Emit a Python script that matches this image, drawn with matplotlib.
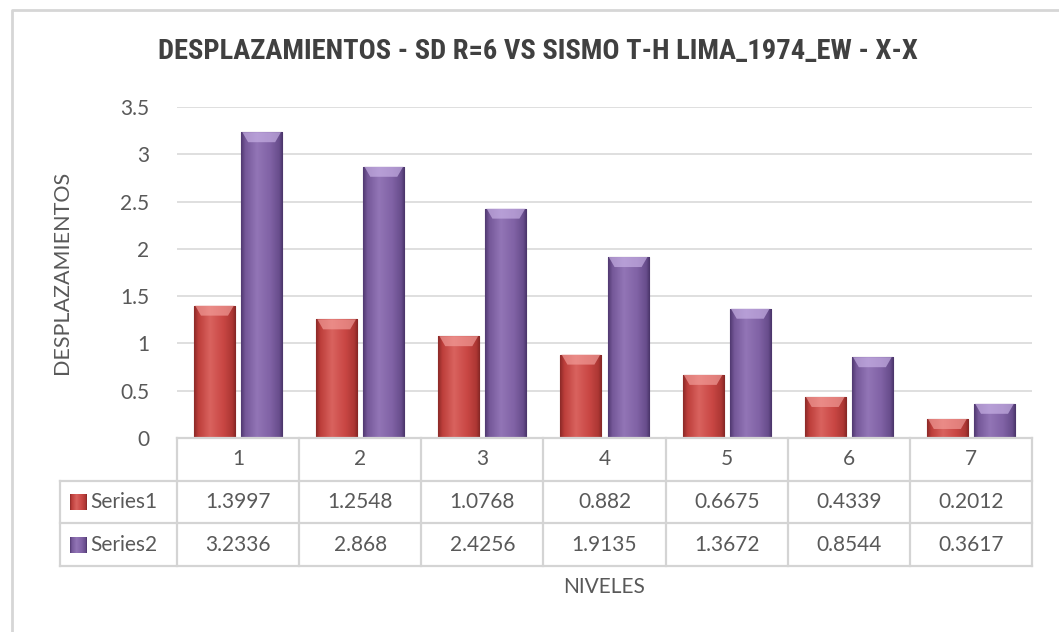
import numpy as np
import matplotlib
matplotlib.use('Agg')
import matplotlib.pyplot as plt
from matplotlib import font_manager
from matplotlib.colors import LinearSegmentedColormap
from matplotlib.patches import Rectangle, Polygon

niveles = [1, 2, 3, 4, 5, 6, 7]
series1 = [1.3997, 1.2548, 1.0768, 0.882, 0.6675, 0.4339, 0.2012]
series2 = [3.2336, 2.868, 2.4256, 1.9135, 1.3672, 0.8544, 0.3617]
series_names = ['Series1', 'Series2']
yticks = [0, 0.5, 1, 1.5, 2, 2.5, 3, 3.5]

title = 'DESPLAZAMIENTOS - SD R=6 VS SISMO T-H LIMA_1974_EW - X-X'

W, H = 1059, 632
grey = '#595959'
line_c = '#dcdcdc'

# look for a narrow font for the title
names = {f.name for f in font_manager.fontManager.ttflist}
stretches = {(f.name, f.stretch) for f in font_manager.fontManager.ttflist}
title_font = dict(family='DejaVu Sans', fontsize=17)
for cand in ['Liberation Sans Narrow', 'Roboto Condensed', 'Open Sans Condensed', 'Noto Sans Condensed']:
    if cand in names:
        title_font = dict(family=cand, fontsize=20.5)
        break
else:
    if ('DejaVu Sans', 'condensed') in stretches:
        title_font = dict(family='DejaVu Sans', fontstretch='condensed', fontsize=19)

txt_font = 'Lato' if 'Lato' in names else 'DejaVu Sans'


def px(l, t, r, b):
    return [l / W, 1 - b / H, (r - l) / W, (b - t) / H]


fig = plt.figure(figsize=(W / 100, H / 100), dpi=100)
fig.patch.set_facecolor('white')

# chart frame
frame = fig.add_axes([0, 0, 1, 1], zorder=-5)
frame.set_xlim(0, W)
frame.set_ylim(H, 0)
frame.axis('off')
frame.plot([12, 12, W], [H, 10, 10], color='#d6d6d6', lw=2)

ax = fig.add_axes(px(177, 107, 1032, 438))
x = np.array(niveles)
w = 0.336
off = 0.193

red_cm = LinearSegmentedColormap.from_list('r', [
    (0, '#8e2a28'), (0.1, '#bd3e3b'), (0.38, '#d9625e'),
    (0.7, '#c94744'), (0.92, '#ad3734'), (1, '#862725')])
pur_cm = LinearSegmentedColormap.from_list('p', [
    (0, '#523a72'), (0.1, '#755899'), (0.38, '#9275b6'),
    (0.7, '#8062a5'), (0.92, '#684d8c'), (1, '#4b356a')])

b1 = ax.bar(x - off, series1, w, color='#c0504d', edgecolor='#7d2321', lw=0.8, zorder=3)
b2 = ax.bar(x + off, series2, w, color='#8064a2', edgecolor='#4a3468', lw=0.8, zorder=3)

grad = np.linspace(0, 1, 64).reshape(1, -1)
dy = 10 * 3.5 / 331
dx = 7 / 122.14
for bars, cm, hi in [(b1, red_cm, '#f4a19d'), (b2, pur_cm, '#cbb5e8')]:
    for p in bars:
        x0, y0 = p.get_x(), p.get_y()
        x1, y1 = x0 + p.get_width(), y0 + p.get_height()
        im = ax.imshow(grad, cmap=cm, extent=[x0, x1, y0, y1], aspect='auto', zorder=3.1)
        im.set_clip_path(p)
        ax.add_patch(Polygon([(x0 + 0.01, y1), (x1 - 0.01, y1), (x1 - dx, y1 - dy), (x0 + dx, y1 - dy)],
                             closed=True, facecolor=hi, edgecolor='none', alpha=0.65, zorder=3.2))

ax.set_xlim(0.5, 7.5)
ax.set_ylim(0, 3.5)
ax.set_yticks(yticks)
ax.set_yticklabels([f'{v:g}' for v in yticks], fontsize=15, color=grey, family=txt_font)
ax.set_xticks([])
ax.tick_params(axis='y', length=0, pad=20)
ax.yaxis.grid(True, color=line_c, lw=1.3, zorder=0)
ax.set_axisbelow(True)
for s in ax.spines.values():
    s.set_visible(False)

# data table below the plot
left_d = 0.5 - (177 - 60) / 122.14
tab = fig.add_axes(px(60, 438, 1032, 566))
tab.set_xlim(left_d, 7.5)
tab.set_ylim(0, 3)
tab.axis('off')
lc = '#d4d4d4'
tab.plot([0.5, 7.5], [3, 3], color=lc, lw=1.6, clip_on=False)
for yy in [0, 1, 2]:
    tab.plot([left_d, 7.5], [yy, yy], color=lc, lw=1.6, clip_on=False)
for xx in np.arange(0.5, 8, 1):
    tab.plot([xx, xx], [0, 3], color=lc, lw=1.6, clip_on=False)
tab.plot([left_d, left_d], [0, 2], color=lc, lw=1.6, clip_on=False)

for i, n in enumerate(niveles):
    tab.text(x[i], 2.5, str(n), ha='center', va='center', fontsize=15, color=grey, family=txt_font)
    tab.text(x[i], 1.5, f'{series1[i]:g}', ha='center', va='center', fontsize=15, color=grey, family=txt_font)
    tab.text(x[i], 0.5, f'{series2[i]:g}', ha='center', va='center', fontsize=15, color=grey, family=txt_font)

kw = 16 / 122.14
kh = 16 / 42.7
for row, name, cm in [(1.5, series_names[0], red_cm), (0.5, series_names[1], pur_cm)]:
    kx = left_d + 10 / 122.14
    key = Rectangle((kx, row - kh / 2), kw, kh, facecolor='none', edgecolor='none')
    tab.add_patch(key)
    im = tab.imshow(grad, cmap=cm, extent=[kx, kx + kw, row - kh / 2, row + kh / 2], aspect='auto')
    im.set_clip_path(key)
    tab.text(left_d + 30 / 122.14, row, name, ha='left', va='center', fontsize=15, color=grey, family=txt_font)
tab.set_xlim(left_d, 7.5)
tab.set_ylim(0, 3)

fig.text(62 / W, 1 - 272 / H, 'DESPLAZAMIENTOS', rotation=90, ha='center', va='center',
         fontsize=15.5, color=grey, family=txt_font)
fig.text(604 / W, 1 - 587 / H, 'NIVELES', ha='center', va='center', fontsize=15, color=grey, family=txt_font)
fig.text(538 / W, 1 - 51 / H, title, ha='center', va='center', fontweight='bold',
         color='#404040', **title_font)

fig.savefig('out.png', dpi=100)
